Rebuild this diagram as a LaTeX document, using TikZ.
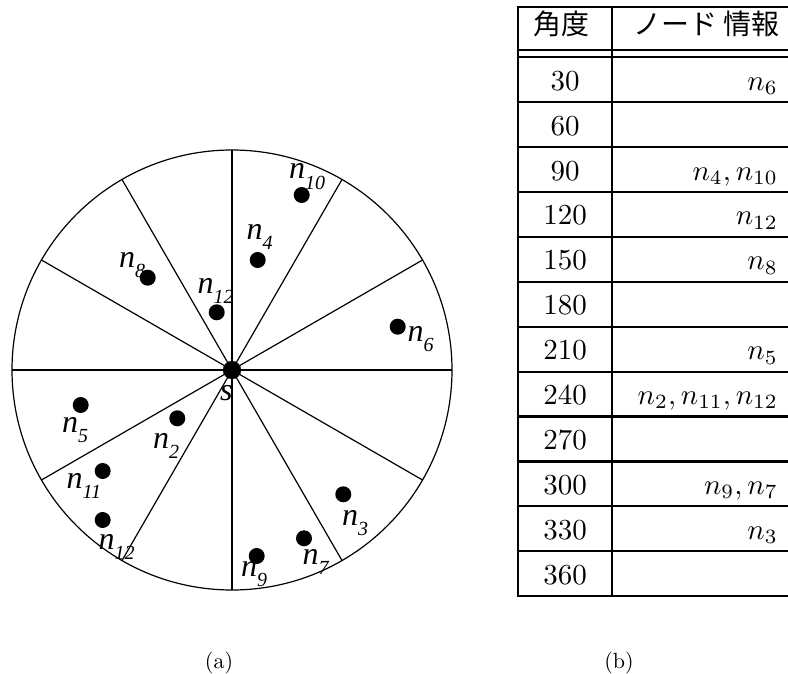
\RequirePackage{fix-cm}
\documentclass[tikz,border=0pt]{standalone}
\usepackage{graphicx}
\usepackage{fontspec}
\newfontfamily\tms{Liberation Serif}
\newfontfamily\cjk{Noto Sans CJK JP}
\newcommand\nlab[1]{n\raisebox{-10pt}{\fontsize{20}{20}\selectfont #1}}
\newcommand\tbx[1]{\scalebox{2.9}{#1}}
\begin{document}
\begin{tikzpicture}[x=1pt,y=-1pt,
  dot/.style={circle,fill=black,inner sep=0pt,minimum size=16pt},
  hub/.style={circle,fill=black,inner sep=0pt,minimum size=18pt},
  lab/.style={anchor=base west,inner sep=0pt,font=\tms\itshape\fontsize{32}{32}\selectfont},
  spoke/.style={line width=1.2pt},
  rulex/.style={line width=2.2pt,line cap=rect},
  cell/.style={anchor=base,inner sep=0pt},
  cellr/.style={anchor=base east,inner sep=0pt},
  head/.style={anchor=center,inner sep=0pt,font=\cjk\fontsize{28}{30}\selectfont},
  captext/.style={anchor=center,inner sep=0pt}]
\useasboundingbox (0,0) rectangle (788,674);
\fill[white] (0,0) rectangle (788,674);
% circle
\node[hub] (s) at (232,370) {};
\draw[spoke] (s.center) circle (220);
\foreach \a in {0,30,...,330} \draw[spoke] (s.center) -- ++(\a:220);
\node[hub] at (s.center) {};
% dots
\node[dot] (n10) at (301.7,195) {};
\node[dot] (n4) at (257.7,260) {};
\node[dot] (n6) at (397.7,326.7) {};
\node[dot] (n12a) at (216.7,312.3) {};
\node[dot] (n8) at (147.7,277.7) {};
\node[dot] (n5) at (80.7,405) {};
\node[dot] (n2) at (177.3,418.3) {};
\node[dot] (n11) at (102.7,471) {};
\node[dot] (n12b) at (102.7,520) {};
\node[dot] (n3) at (343.3,494.3) {};
\node[dot] (n7) at (304,538.3) {};
\node[dot] (n9) at (256.7,556) {};
% labels
\node[lab] (l10) at (289,179) {\nlab{10}};
\node[lab] (l4) at (246.5,240) {\nlab{4}};
\node[lab] (l6) at (407.5,341.7) {\nlab{6}};
\node[lab] (l8) at (119,267.3) {\nlab{8}};
\node[lab] (l12a) at (197.5,293.3) {\nlab{12}};
\node[lab] (l5) at (62,432.7) {\nlab{5}};
\node[lab] (l2) at (153,448.3) {\nlab{2}};
\node[lab] (l11) at (66.5,488) {\nlab{11}};
\node[lab] (l12b) at (98.5,549) {\nlab{12}};
\node[lab] (ls) at (220,400) {s};
\node[lab] (l3) at (342,525) {\nlab{3}};
\node[lab] (l7) at (302.5,564) {\nlab{7}};
\node[lab] (l9) at (241,576) {\nlab{9}};
% table
\foreach \y in {7.3,50,57.3} \draw[rulex] (518,\y) -- (792,\y);
\foreach \k in {1,...,12} \draw[rulex] (518,57.3+44.9*\k) -- (792,57.3+44.9*\k);
\draw[rulex] (518,7.3) -- (518,596.1);
\draw[rulex] (611.7,7.3) -- (611.7,596.1);
\node[head] (h1) at (561.7,24) {角度};
\node[head] (h2) at (706.5,24) {ノード 情報};
\foreach \ang/\info [count=\i from 0] in {30/{$n_6$},60/{},90/{$n_4,n_{10}$},120/{$n_{12}$},150/{$n_8$},180/{},210/{$n_5$},240/{$n_2,n_{11},n_{12}$},270/{},300/{$n_9,n_7$},330/{$n_3$},360/{}}{
  \node[cell] (a\i) at (565,57.3+44.9*\i+33) {\tbx{\ang}};
  \node[cellr] (b\i) at (778,57.3+44.9*\i+33) {\tbx{\info}};
}
% captions
\node[captext] (ca) at (219,663) {\scalebox{2.2}{(a)}};
\node[captext] (cb) at (619,663) {\scalebox{2.2}{(b)}};
\end{tikzpicture}
\end{document}
